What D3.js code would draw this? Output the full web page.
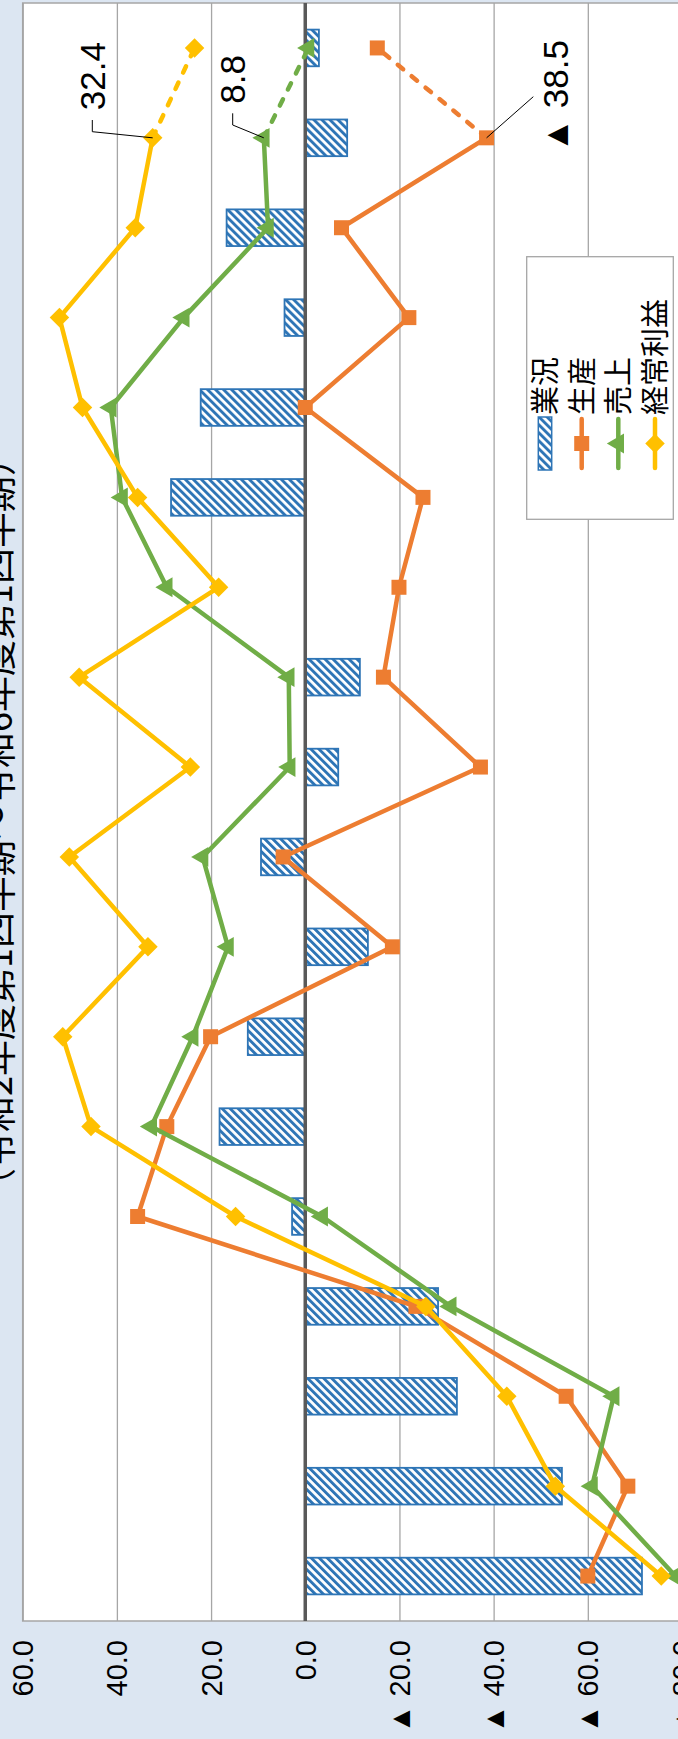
<!DOCTYPE html>
<html>
<head>
<meta charset="utf-8">
<script src="https://cdn.jsdelivr.net/npm/d3@7"></script>
<style>
  html, body { margin: 0; padding: 0; background: #dce6f2; }
  svg { display: block; }
</style>
</head>
<body>
<svg id="chart" width="678" height="1739"></svg>
<script>
// Quarters, oldest first; the last one is the outlook (drawn dashed).
const categories = [
  "令和2年度1Q", "令和2年度2Q", "令和2年度3Q", "令和2年度4Q",
  "令和3年度1Q", "令和3年度2Q", "令和3年度3Q", "令和3年度4Q",
  "令和4年度1Q", "令和4年度2Q", "令和4年度3Q", "令和4年度4Q",
  "令和5年度1Q", "令和5年度2Q", "令和5年度3Q", "令和5年度4Q",
  "令和6年度1Q", "令和6年度2Q(見通し)"
];

// DI values per quarter
const businessDI   = [-71.5, -54.5, -32.2, -28.2,  2.8, 18.2, 12.2, -13.3,  9.4,  -7.0, -11.6,   0.0, 28.5, 22.2,   4.4, 16.7,  -8.9, -2.9];
const productionDI = [-60.0, -68.5, -55.4, -23.5, 35.6, 29.4, 20.1, -18.5,  4.7, -37.2, -16.6, -19.9, -25.0,  0.0, -22.0, -7.7, -38.5, -15.3];
const salesDI      = [-78.6, -60.9, -65.5, -30.9, -3.6, 32.7, 23.9,  16.4, 21.8,   3.3,   3.5,  29.4, 38.9, 41.3,  25.8,  7.9,   8.8, -0.7];
const profitDI     = [-75.6, -53.1, -42.8, -25.6, 14.8, 45.5, 51.5,  33.4, 50.1,  24.4,  48.0,  18.4, 35.6, 47.3,  52.2, 36.1,  32.4, 23.5];

const seriesNames = ["業況", "生産", "売上", "経常利益"];
const tickValues = [60, 40, 20, 0, -20, -40, -60, -80];
const tickLabels = ["60.0", "40.0", "20.0", "0.0", "▲ 20.0", "▲ 40.0", "▲ 60.0", "▲ 80.0"];
const titleText = "（令和2年度第1四半期～令和6年度第1四半期）";

// ---------------------------------------------------------------
const NUM_FONT = "'Liberation Sans', Arial, 'Noto Sans CJK JP', sans-serif";
const CJK_FONT = "'Noto Sans CJK JP', 'Noto Sans', sans-serif";
const BLUE = "#2e75b6", ORANGE = "#ed7d31", GREEN = "#70ad47", YELLOW = "#ffc000";

const svg = d3.select("#chart");
const plot = { left: 22.7, right: 682, top: 3, bottom: 1621 };

// The chart is laid on its side: values run horizontally, quarters run bottom-to-top.
const x = d3.scaleLinear().domain([60, -80]).range([plot.left, plot.right]);
const y = d3.scaleBand().domain(categories).range([plot.bottom, plot.top])
  .paddingInner(0.592).paddingOuter(0.296);
const cy = c => y(c) + y.bandwidth() / 2;

const fmt = v => v < 0 ? "▲ " + (-v).toFixed(1) : v.toFixed(1);

// Hatched fill for the 業況 bars
const defs = svg.append("defs");
const pat = defs.append("pattern").attr("id", "hatch")
  .attr("patternUnits", "userSpaceOnUse")
  .attr("width", 5.66).attr("height", 5.66)
  .attr("patternTransform", "rotate(-45)");
pat.append("rect").attr("width", 5.66).attr("height", 5.66).attr("fill", "#fff");
pat.append("rect").attr("width", 2.9).attr("height", 5.66).attr("fill", BLUE);

// Background and plot area
svg.append("rect").attr("width", 678).attr("height", 1739).attr("fill", "#dce6f2");
svg.append("rect")
  .attr("x", plot.left).attr("y", plot.top)
  .attr("width", plot.right - plot.left).attr("height", plot.bottom - plot.top)
  .attr("fill", "#fff").attr("stroke", "#a6a6a6").attr("stroke-width", 1.5);

// Value axis with gridlines
const axis = svg.append("g")
  .attr("transform", `translate(0,${plot.bottom})`)
  .call(d3.axisBottom(x)
    .tickValues(tickValues)
    .tickSize(-(plot.bottom - plot.top))
    .tickFormat((d, i) => tickLabels[i]));
axis.select(".domain").remove();
axis.selectAll(".tick line").attr("stroke", "#a6a6a6").attr("stroke-width", 1.3);
axis.selectAll(".tick text")
  .attr("x", null).attr("y", null).attr("dy", null)
  .attr("transform", "translate(10,19) rotate(-90)")
  .attr("text-anchor", "end")
  .attr("fill", "#000")
  .style("font-family", NUM_FONT)
  .style("font-size", "29px");

// 業況 bars
const barData = categories.map((c, i) => ({ c, v: businessDI[i] }));
svg.append("g").selectAll("rect").data(barData).join("rect")
  .attr("x", d => Math.min(x(0), x(d.v)))
  .attr("width", d => Math.abs(x(d.v) - x(0)))
  .attr("y", d => y(d.c))
  .attr("height", y.bandwidth())
  .attr("fill", "url(#hatch)")
  .attr("stroke", BLUE)
  .attr("stroke-width", 1.8);

// Zero line
svg.append("line")
  .attr("x1", x(0)).attr("x2", x(0))
  .attr("y1", plot.top).attr("y2", plot.bottom)
  .attr("stroke", "#595959").attr("stroke-width", 3.5);

// Line series
const lineSeries = [
  { name: seriesNames[1], values: productionDI, color: ORANGE, symbol: d3.symbolSquare,   size: 225, rot: 0 },
  { name: seriesNames[2], values: salesDI,      color: GREEN,  symbol: d3.symbolTriangle, size: 170, rot: -90 },
  { name: seriesNames[3], values: profitDI,     color: YELLOW, symbol: d3.symbolSquare,   size: 190, rot: 45 }
];
const line = d3.line().x(d => x(d.v)).y(d => cy(d.c));
const last = categories.length - 1;

lineSeries.forEach(s => {
  const pts = categories.map((c, i) => ({ c, v: s.values[i] }));
  const g = svg.append("g");
  g.append("path").datum(pts.slice(0, last))
    .attr("d", line).attr("fill", "none")
    .attr("stroke", s.color).attr("stroke-width", 4.5)
    .attr("stroke-linejoin", "round").attr("stroke-linecap", "round");
  g.append("path").datum(pts.slice(last - 1))
    .attr("d", line).attr("fill", "none")
    .attr("stroke", s.color).attr("stroke-width", 4.5)
    .attr("stroke-linecap", "round")
    .attr("stroke-dasharray", "7,11");
  g.selectAll("path.marker").data(pts).join("path")
    .attr("class", "marker")
    .attr("d", d3.symbol().type(s.symbol).size(s.size))
    .attr("transform", d => `translate(${x(d.v)},${cy(d.c)}) rotate(${s.rot})`)
    .attr("fill", s.color);
});

// Value callouts for the latest actual quarter
const calloutIdx = last - 1;
const callouts = [
  { values: profitDI,     path: [[92.3, 131.7], [92.3, 120]], tx: 105, ty: 42 },
  { values: salesDI,      path: [[232.7, 125], [232.7, 113.3]], tx: 245, ty: 55 },
  { values: productionDI, path: [[533.3, 96.7]],                tx: 568, ty: 40 }
];
const cg = svg.append("g");
callouts.forEach(co => {
  const v = co.values[calloutIdx];
  const p0 = [x(v), cy(categories[calloutIdx])];
  cg.append("polyline")
    .attr("points", [p0].concat(co.path).map(p => p.join(",")).join(" "))
    .attr("fill", "none").attr("stroke", "#000").attr("stroke-width", 1);
  cg.append("text")
    .attr("transform", `translate(${co.tx},${co.ty}) rotate(-90)`)
    .attr("text-anchor", "end")
    .style("font-family", NUM_FONT).style("font-size", "35px")
    .text(fmt(v));
});

// Legend
const lg = svg.append("g");
lg.append("rect")
  .attr("x", 526.7).attr("y", 256.7).attr("width", 146.6).attr("height", 262.6)
  .attr("fill", "#fff").attr("stroke", "#a6a6a6").attr("stroke-width", 1.3);
const legendX = [545, 581.7, 618.3, 655];
const symY = 443.5;
lg.append("rect")
  .attr("x", legendX[0] - 6.7).attr("y", 417).attr("width", 13.4).attr("height", 53)
  .attr("fill", "url(#hatch)").attr("stroke", BLUE).attr("stroke-width", 1.5);
lineSeries.forEach((s, i) => {
  const lx = legendX[i + 1];
  lg.append("line").attr("x1", lx).attr("x2", lx).attr("y1", 419).attr("y2", 468)
    .attr("stroke", s.color).attr("stroke-width", 4.5).attr("stroke-linecap", "round");
  lg.append("path")
    .attr("d", d3.symbol().type(s.symbol).size(s.size)())
    .attr("transform", `translate(${lx},${symY}) rotate(${s.rot})`)
    .attr("fill", s.color);
});
seriesNames.forEach((n, i) => {
  lg.append("text")
    .attr("transform", `translate(${legendX[i] + 11},${415}) rotate(-90)`)
    .attr("text-anchor", "start")
    .style("font-family", CJK_FONT).style("font-size", "29px")
    .text(n);
});

// Title (runs along the left edge)
svg.append("text")
  .attr("transform", "translate(12,822) rotate(-90)")
  .attr("text-anchor", "middle")
  .style("font-family", CJK_FONT).style("font-size", "36px")
  .text(titleText);
</script>
</body>
</html>
